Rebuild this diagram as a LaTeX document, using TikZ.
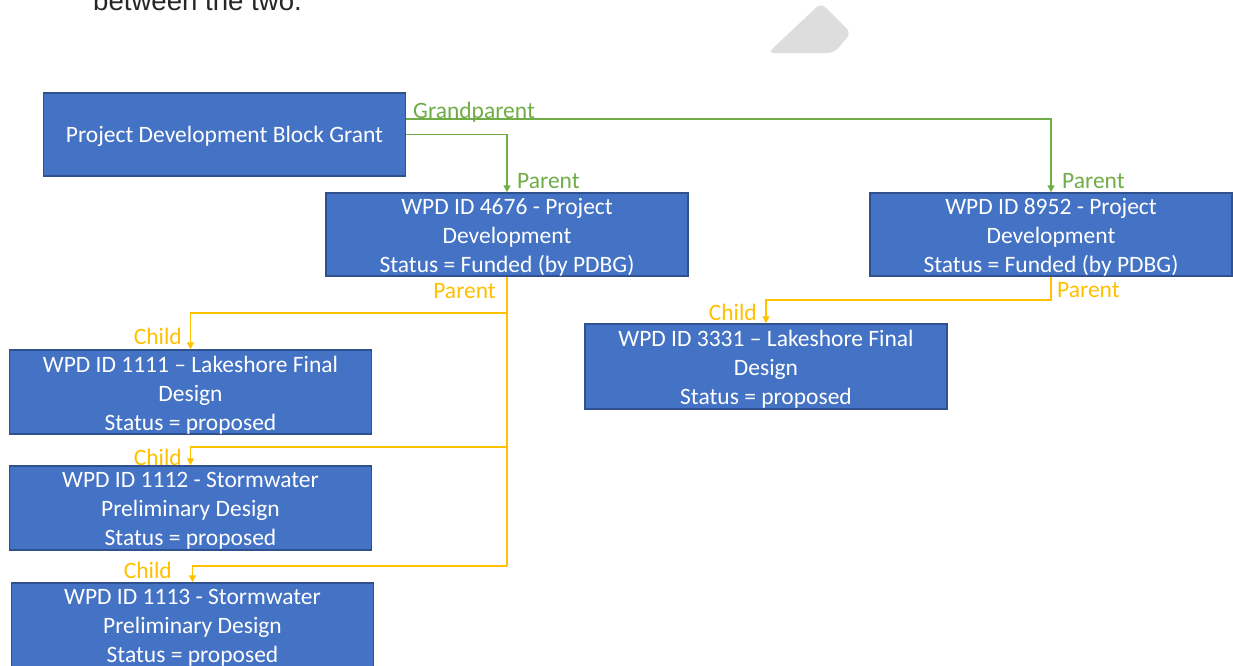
\documentclass[tikz,border=0pt]{standalone}
\usepackage{fontspec}
\setmainfont{Carlito}
\newfontfamily\arialfont{Liberation Sans}
\usepackage{tikz}
\usetikzlibrary{positioning,arrows.meta,calc}

\definecolor{boxfill}{HTML}{4472C4}
\definecolor{boxline}{HTML}{2F528F}
\definecolor{gpgreen}{HTML}{70AD47}
\definecolor{chgold}{HTML}{FFC000}
\definecolor{pagegray}{HTML}{DDDDDD}

\begin{document}
\begin{tikzpicture}[x=1pt,y=-1pt,
  wpdbox/.style={draw=boxline,line width=1.5pt,fill=boxfill,
    minimum width=362pt,minimum height=83pt,inner sep=0pt},
  boxtext/.style={text=white,align=center,inner sep=0pt,
    font=\fontsize{23.5}{29}\selectfont},
  lbl/.style={inner sep=0pt,font=\fontsize{23.5}{29}\selectfont},
  greenline/.style={draw=gpgreen,line width=1.6pt},
  goldline/.style={draw=chgold,line width=1.6pt},
  tip/.style={-{Triangle[length=7pt,width=7pt]}}]
\clip (0,0) rectangle (1233,665);
\fill[white] (0,0) rectangle (1233,665);

% bits of the page around the picture
\node[anchor=base west,inner sep=0pt,font=\arialfont\fontsize{27.6}{30}\selectfont,text=black!85] (pagetext) at (93,10) {between the two.};
\fill[pagegray,rounded corners=6pt] (768,53) -- (821,3) -- (851,33) -- (834,53) -- cycle;

% boxes
\node[wpdbox] (pdbg) at (224.5,134.5) {};
\node[wpdbox] (p4676) at (507,234.5) {};
\node[wpdbox] (p8952) at (1051,234.5) {};
\node[wpdbox,minimum height=84pt] (p1111) at (190.5,392) {};
\node[wpdbox,minimum height=84pt] (p1112) at (190.5,508) {};
\node[wpdbox,minimum height=84pt] (p1113) at (192.5,625) {};
\node[wpdbox,minimum height=85pt] (p3331) at (766,366.5) {};

% box texts
\node[boxtext] (tpdbg) at ([yshift=-2pt]pdbg) {Project Development Block Grant};
\node[boxtext] (t4676) at ([yshift=-3pt]p4676) {WPD ID 4676 - Project\\Development\\Status = Funded (by PDBG)};
\node[boxtext] (t8952) at ([yshift=-3pt]p8952) {WPD ID 8952 - Project\\Development\\Status = Funded (by PDBG)};
\node[boxtext] (t1111) at ([yshift=-3pt]p1111) {WPD ID 1111 -- Lakeshore Final\\Design\\Status = proposed};
\node[boxtext] (t1112) at ([yshift=-3pt]p1112) {WPD ID 1112 - Stormwater\\Preliminary Design\\Status = proposed};
\node[boxtext] (t1113) at ([yshift=-3pt]p1113) {WPD ID 1113 - Stormwater\\Preliminary Design\\Status = proposed};
\node[boxtext] (t3331) at ([yshift=-3pt]p3331) {WPD ID 3331 -- Lakeshore Final\\Design\\Status = proposed};

% green: block grant to project development
\draw[greenline,tip] ([yshift=-27pt]pdbg.north east) -| (p8952.north);
\draw[greenline,tip] (pdbg.east) -| (p4676.north);
\node[lbl,text=gpgreen,anchor=base west] (lgrand) at (413,118) {Grandparent};
\node[lbl,text=gpgreen,anchor=base west] (lpar1) at (517,188) {Parent};
\node[lbl,text=gpgreen,anchor=base west] (lpar2) at (1062,188) {Parent};

% gold: project development to final design
\coordinate (trunk) at (507,566);
\draw[goldline] (p4676.south) -- (trunk);
\draw[goldline,tip] (p4676.south |- 0,313) -| (p1111.north);
\draw[goldline,tip] (p4676.south |- 0,447) -| (p1112.north);
\draw[goldline,tip] (trunk) -| (p1113.north);
\draw[goldline,tip] (p8952.south) -- (p8952.south |- 0,300) -| (p3331.north);
\node[lbl,text=chgold,anchor=base east] (lpar3) at (496,298) {Parent};
\node[lbl,text=chgold,anchor=base west] (lpar4) at (1057,297) {Parent};
\node[lbl,text=chgold,anchor=base east] (lch1) at (182,344) {Child};
\node[lbl,text=chgold,anchor=base east] (lch2) at (182,465) {Child};
\node[lbl,text=chgold,anchor=base east] (lch3) at (172,578) {Child};
\node[lbl,text=chgold,anchor=base east] (lch4) at (757,320) {Child};
\end{tikzpicture}
\end{document}
